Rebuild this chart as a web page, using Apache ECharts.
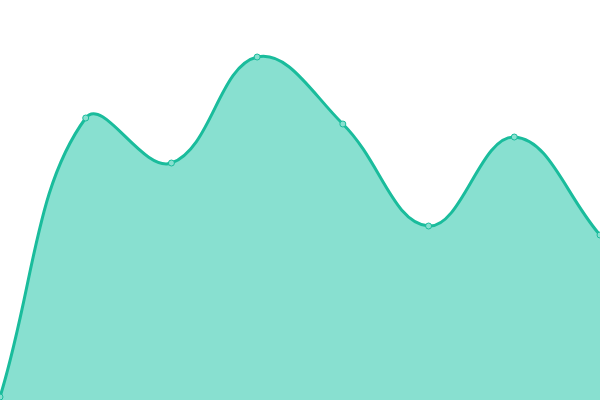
<!DOCTYPE html>
<html lang="en">
<head>
    <meta charset="UTF-8">
    <title>area</title>
    <script src="https://cdn.jsdelivr.net/npm/echarts@6/dist/echarts.min.js"></script>
    <style>
        html, body { margin: 0; padding: 0; background: #fff; }
        #main { width: 600px; height: 400px; }
    </style>
</head>
<body>
<div id="main"></div>
<script type="application/javascript">
    // data
    var categories = ['A', 'B', 'C', 'D', 'E', 'F', 'G', 'H'];
    var values = [3, 282, 237, 343, 276, 174, 263, 165];

    var TENSION = 0.4;

    // [index, value] pairs for the cartesian coords
    var pairs = values.map(function (v, i) { return [i, v]; });

    // cardinal spline control points (tension 0.4), like the original curve
    function controlPoints(pts) {
        var cps = [];
        for (var i = 0; i < pts.length; i++) {
            var prev = pts[i - 1] || pts[i];
            var cur = pts[i];
            var next = pts[i + 1] || pts[i];
            var d01 = Math.hypot(cur[0] - prev[0], cur[1] - prev[1]);
            var d12 = Math.hypot(next[0] - cur[0], next[1] - cur[1]);
            var s01 = d01 / (d01 + d12) || 0;
            var s12 = d12 / (d01 + d12) || 0;
            var fa = TENSION * s01, fb = TENSION * s12;
            cps.push({
                before: [cur[0] - fa * (next[0] - prev[0]), cur[1] - fa * (next[1] - prev[1])],
                after: [cur[0] + fb * (next[0] - prev[0]), cur[1] + fb * (next[1] - prev[1])]
            });
        }
        return cps;
    }

    function renderCurve(params, api) {
        if (params.dataIndex !== 0) return null;
        var pts = pairs.map(function (p) { return api.coord(p); });
        var cps = controlPoints(pts);
        var d = 'M' + pts[0][0] + ' ' + pts[0][1];
        for (var i = 1; i < pts.length; i++) {
            var a = cps[i - 1].after, b = cps[i].before;
            d += ' C' + a[0] + ' ' + a[1] + ' ' + b[0] + ' ' + b[1] + ' ' + pts[i][0] + ' ' + pts[i][1];
        }
        var baseL = api.coord([0, 0]);
        var baseR = api.coord([values.length - 1, 0]);
        var area = d + ' L' + baseR[0] + ' ' + baseR[1] + ' L' + baseL[0] + ' ' + baseL[1] + ' Z';
        return {
            type: 'group',
            children: [
                { type: 'path', shape: { pathData: area }, style: { fill: '#88e0d0', stroke: null } },
                { type: 'path', shape: { pathData: d }, style: { fill: null, stroke: '#1abc9c', lineWidth: 3 } }
            ]
        };
    }

    var myChart = echarts.init(document.getElementById('main'));

    var option = {
        animation: false,
        grid: { left: 0, right: 0, top: 0, bottom: 0 },
        xAxis: {
            type: 'category',
            boundaryGap: false,
            data: categories,
            show: false
        },
        yAxis: {
            type: 'value',
            min: 0,
            max: 400,
            show: false
        },
        series: [
            {
                type: 'custom',
                renderItem: renderCurve,
                data: pairs,
                encode: { x: 0, y: 1 },
                z: 1
            },
            {
                type: 'scatter',
                data: pairs,
                symbol: 'circle',
                symbolSize: 6,
                itemStyle: { color: '#88e0d0', borderColor: '#1abc9c', borderWidth: 1, opacity: 1 },
                z: 3
            }
        ]
    };

    myChart.setOption(option);
</script>
</body>
</html>
